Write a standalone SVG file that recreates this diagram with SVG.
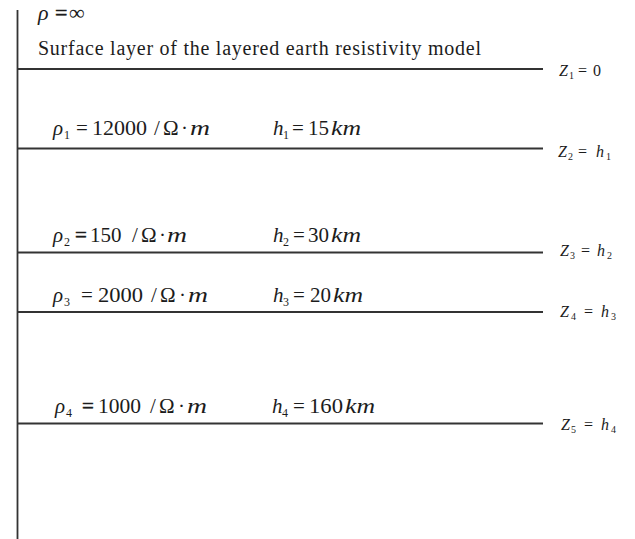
<svg xmlns="http://www.w3.org/2000/svg" width="635" height="539" viewBox="0 0 635 539">
<style>
  .ln{stroke:#333;stroke-width:1.8;fill:none}
  text{font-family:"Liberation Serif","Times New Roman",serif;fill:#1c1c1c}
  .m{font-size:21px}
  .z{font-size:16px}
  .i{font-style:italic}
  .w{font-size:22px;font-style:italic}
  .b{stroke:#1c1c1c;stroke-width:0.5}
  .sb{font-size:12px}
  .zs{font-size:10px}
</style>
<rect width="635" height="539" fill="#fff"/>
<g id="lines">
  <line class="ln" x1="17.5" y1="10" x2="17.5" y2="539"/>
  <line class="ln" x1="17" y1="69" x2="543" y2="69"/>
  <line class="ln" x1="17" y1="148.5" x2="543" y2="148.5"/>
  <line class="ln" x1="17" y1="252.5" x2="543" y2="252.5"/>
  <line class="ln" x1="17" y1="312" x2="543" y2="312"/>
  <line class="ln" x1="17" y1="423.5" x2="543" y2="423.5"/>
</g>
<g id="top">
  <text y="20" style="font-size:22px"><tspan x="38" class="i">ρ</tspan><tspan x="55" class="b">=</tspan><tspan x="69">∞</tspan></text>
  <text x="38" y="55" style="font-size:20px" textLength="443" lengthAdjust="spacing">Surface layer of the layered earth resistivity model</text>
</g>
<g id="layer1">
  <text class="m" y="135"><tspan x="53" class="i">ρ</tspan><tspan x="64" dy="4" class="sb">1</tspan><tspan x="76" dy="-4">=</tspan><tspan x="92" textLength="55" lengthAdjust="spacingAndGlyphs">12000</tspan><tspan x="154">/</tspan><tspan x="163">Ω</tspan><tspan x="181">·</tspan><tspan x="190" class="w" textLength="20" lengthAdjust="spacingAndGlyphs">m</tspan></text>
  <text class="m" y="135"><tspan x="273" class="i">h</tspan><tspan x="283" dy="4" class="sb">1</tspan><tspan x="292" dy="-4">=</tspan><tspan x="308">15</tspan><tspan x="331" class="w" textLength="30" lengthAdjust="spacingAndGlyphs">km</tspan></text>
</g>
<g id="layer2">
  <text class="m" y="242"><tspan x="53" class="i">ρ</tspan><tspan x="64" dy="4" class="sb">2</tspan><tspan x="75" dy="-4" class="b">=</tspan><tspan x="90">150</tspan><tspan x="132">/</tspan><tspan x="141">Ω</tspan><tspan x="159">·</tspan><tspan x="167" class="w" textLength="20" lengthAdjust="spacingAndGlyphs">m</tspan></text>
  <text class="m" y="242"><tspan x="273" class="i">h</tspan><tspan x="283" dy="4" class="sb">2</tspan><tspan x="293" dy="-4">=</tspan><tspan x="308">30</tspan><tspan x="331" class="w" textLength="30" lengthAdjust="spacingAndGlyphs">km</tspan></text>
</g>
<g id="layer3">
  <text class="m" y="302"><tspan x="53" class="i">ρ</tspan><tspan x="64" dy="4" class="sb">3</tspan><tspan x="81" dy="-4">=</tspan><tspan x="98" textLength="45" lengthAdjust="spacingAndGlyphs">2000</tspan><tspan x="151">/</tspan><tspan x="160">Ω</tspan><tspan x="179">·</tspan><tspan x="188" class="w" textLength="20" lengthAdjust="spacingAndGlyphs">m</tspan></text>
  <text class="m" y="302"><tspan x="273" class="i">h</tspan><tspan x="283" dy="4" class="sb">3</tspan><tspan x="293" dy="-4">=</tspan><tspan x="310">20</tspan><tspan x="333" class="w" textLength="30" lengthAdjust="spacingAndGlyphs">km</tspan></text>
</g>
<g id="layer4">
  <text class="m" y="413"><tspan x="55" class="i">ρ</tspan><tspan x="66" dy="4" class="sb">4</tspan><tspan x="82" dy="-4" class="b">=</tspan><tspan x="98" textLength="43" lengthAdjust="spacingAndGlyphs">1000</tspan><tspan x="150">/</tspan><tspan x="159">Ω</tspan><tspan x="178">·</tspan><tspan x="187" class="w" textLength="20" lengthAdjust="spacingAndGlyphs">m</tspan></text>
  <text class="m" y="413"><tspan x="272" class="i">h</tspan><tspan x="282" dy="4" class="sb">4</tspan><tspan x="293" dy="-4">=</tspan><tspan x="309" textLength="34" lengthAdjust="spacingAndGlyphs">160</tspan><tspan x="345" class="w" textLength="30" lengthAdjust="spacingAndGlyphs">km</tspan></text>
</g>
<g id="depths">
  <text class="z" y="76"><tspan x="559" class="i">Z</tspan><tspan x="569" dy="3" class="zs">1</tspan><tspan x="578" dy="-3">=</tspan><tspan x="593">0</tspan></text>
  <text class="z" y="157"><tspan x="558" class="i">Z</tspan><tspan x="568" dy="3" class="zs">2</tspan><tspan x="578" dy="-3">=</tspan><tspan x="596" class="i">h</tspan><tspan x="606" dy="3" class="zs">1</tspan></text>
  <text class="z" y="256"><tspan x="560" class="i">Z</tspan><tspan x="570" dy="3" class="zs">3</tspan><tspan x="581" dy="-3">=</tspan><tspan x="597" class="i">h</tspan><tspan x="607" dy="3" class="zs">2</tspan></text>
  <text class="z" y="317"><tspan x="560" class="i">Z</tspan><tspan x="571" dy="3" class="zs">4</tspan><tspan x="584" dy="-3">=</tspan><tspan x="601" class="i">h</tspan><tspan x="611" dy="3" class="zs">3</tspan></text>
  <text class="z" y="430"><tspan x="561" class="i">Z</tspan><tspan x="571" dy="3" class="zs">5</tspan><tspan x="584" dy="-3">=</tspan><tspan x="601" class="i">h</tspan><tspan x="611" dy="3" class="zs">4</tspan></text>
</g>
</svg>
